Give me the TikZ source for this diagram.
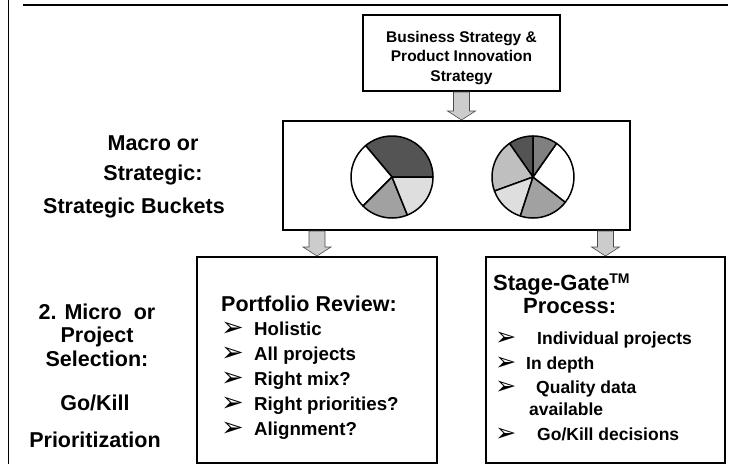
\documentclass[tikz,border=0pt]{standalone}
\usepackage{fontspec}
\setmainfont{Liberation Sans}
\newfontfamily\dingfont{DejaVu Sans}
\usetikzlibrary{positioning, calc}

\definecolor{piedark}{gray}{0.33}
\definecolor{piegrey}{gray}{0.50}
\definecolor{piemid}{gray}{0.63}
\definecolor{piesoft}{gray}{0.75}
\definecolor{pielight}{gray}{0.87}

% bullet with a fixed gap before the text
\newcommand{\itm}[2][33pt]{\makebox[#1][l]{\raisebox{-1.5pt}[10pt][1pt]{\scalebox{1.45}{\dingfont ➢}}}#2}
% grey block arrow between two points
\newcommand{\blockarrow}[2]{%
  \draw[arrowfill] let \p1=(#1), \p2=(#2) in
    (\x1-8pt,\y1) -- (\x1+8pt,\y1) -- (\x1+8pt,\y2+9pt) -- (\x1+14pt,\y2+9pt)
    -- (\x1,\y2) -- (\x1-14pt,\y2+9pt) -- (\x1-8pt,\y2+9pt) -- cycle;}

\begin{document}
\begin{tikzpicture}[
  x=1pt, y=-1pt,
  box/.style={draw, line width=2pt, inner sep=0pt, align=center},
  lbl/.style={align=center, font=\fontsize{21.5}{30}\selectfont\bfseries},
  ttl/.style={anchor=base west, inner sep=0pt, font=\fontsize{21.5}{26}\selectfont\bfseries},
  item/.style={anchor=base west, inner sep=0pt, font=\fontsize{18.7}{24}\selectfont\bfseries},
  sitem/.style={anchor=base west, inner sep=0pt, font=\fontsize{17.5}{22}\selectfont\bfseries},
  arrowfill/.style={fill=gray!40, draw=black!70, line width=0.6pt, line join=miter},
  slice/.style={draw=black, line width=1.5pt, line join=round},
]
  \useasboundingbox (0,0) rectangle (731,464);

  % frame lines
  \draw[line width=1.5pt] (23,5) -- (728,5);
  \draw[line width=0.8pt] (8,0) -- (8,464);

  % boxes
  \node[box, minimum width=197pt, minimum height=76pt] (strat) at (461.5,53) {};
  \node[align=center, font=\fontsize{15.5}{19.5}\selectfont\bfseries] (strattxt)
       at ([yshift=-5pt]strat.center) {Business Strategy \&\\Product Innovation\\Strategy};
  \node[box, minimum width=347pt, minimum height=109pt] (buckets) at (456.5,175.5) {};
  \node[box, minimum width=240pt, minimum height=206pt] (review) at (317,360) {};
  \node[box, minimum width=239pt, minimum height=206pt] (gate) at (605.5,360) {};

  % arrows between levels
  \blockarrow{strat.south}{strat.south |- buckets.north}
  \blockarrow{review.north |- buckets.south}{review.north}
  \blockarrow{gate.north |- buckets.south}{gate.north}

  % strategic buckets
  \begin{scope}[shift={(392,177)}, yscale=-1]
    \foreach \a/\b/\c in {0/130/piedark, 130/225/white, 225/292/piemid, 292/360/pielight}
      \filldraw[slice, fill=\c] (0,0) -- (\a:41) arc[start angle=\a, end angle=\b, radius=41] -- cycle;
  \end{scope}
  \begin{scope}[shift={(533,177)}, yscale=-1]
    \foreach \a/\b/\c in {90/125/piedark, 125/200/piesoft, 200/252/pielight,
                          252/322/piemid, 322/415/white, 415/450/piegrey}
      \filldraw[slice, fill=\c] (0,0) -- (\a:41) arc[start angle=\a, end angle=\b, radius=41] -- cycle;
  \end{scope}

  % level labels
  \node[lbl] (macro) at (153,160) {Macro or\\Strategic:};
  \node[lbl] (bkt) at (134,208) {Strategic Buckets};
  \node[lbl, font=\fontsize{21.5}{23.5}\selectfont\bfseries] (micro) at (97,335) {2. Micro\ \ or\\Project\\Selection:};
  \node[lbl] (gokill) at (95,403) {Go/Kill};
  \node[lbl] (prio) at (95,440) {Prioritization};

  % portfolio review
  \node[ttl] (pfr) at (221,311) {Portfolio Review:};
  \foreach \t [count=\i from 0] in {Holistic, All projects, Right mix?, Right priorities?, Alignment?}
    \node[item] (pf-\i) at (221,335+25*\i) {\itm{\t}};

  % stage-gate
  \node[ttl, font=\fontsize{22}{26}\selectfont\bfseries] (sg) at (493,290)
       {Stage-Gate\raisebox{7pt}{\fontsize{14}{14}\selectfont TM}};
  \node[ttl, font=\fontsize{22}{26}\selectfont\bfseries] (proc) at (523,313) {Process:};
  \node[sitem] (sg-1) at (495,344) {\itm[42pt]{Individual projects}};
  \node[sitem] (sg-2) at (495,369) {\itm[31pt]{In depth}};
  \node[sitem] (sg-3) at (495,393) {\itm[41pt]{Quality data}};
  \node[sitem] (sg-4) at (529,415) {available};
  \node[sitem] (sg-5) at (495,440) {\itm[42pt]{Go/Kill decisions}};
\end{tikzpicture}
\end{document}
